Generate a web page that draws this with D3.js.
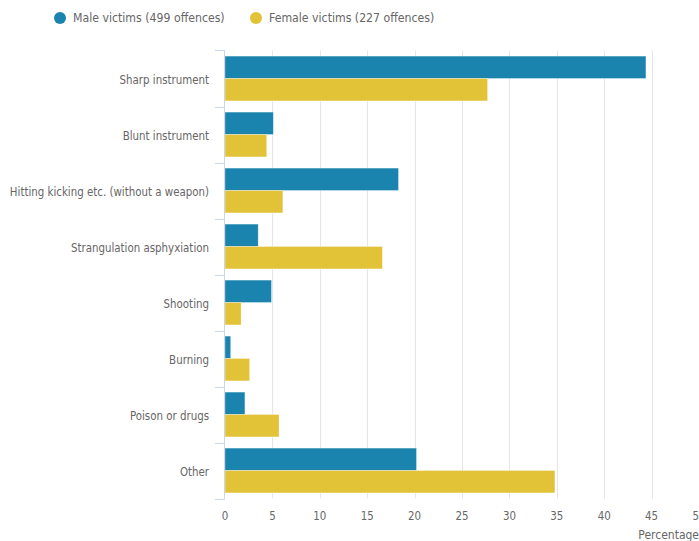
<!DOCTYPE html>
<html>
<head>
<meta charset="utf-8">
<script src="https://cdn.jsdelivr.net/npm/d3@7"></script>
<style>
  html, body { margin: 0; padding: 0; background: #fff; }
  svg { display: block; }
  text { font-family: "DejaVu Sans Condensed", "DejaVu Sans", Verdana, sans-serif; font-stretch: condensed; }
</style>
</head>
<body>
<svg id="chart" width="699" height="541"></svg>
<script>
const categories = ["Sharp instrument", "Blunt instrument", "Hitting kicking etc. (without a weapon)",
  "Strangulation asphyxiation", "Shooting", "Burning", "Poison or drugs", "Other"];
const maleValues = [44.4, 5.1, 18.3, 3.5, 4.9, 0.6, 2.1, 20.2];
const femaleValues = [27.7, 4.4, 6.1, 16.6, 1.7, 2.6, 5.7, 34.8];
const seriesNames = ["Male victims (499 offences)", "Female victims (227 offences)"];
const seriesColors = ["#1a84ae", "#e2c236"];
const xTicks = [0, 5, 10, 15, 20, 25, 30, 35, 40, 45, 50];
const xTitle = "Percentage";

const svg = d3.select("#chart");
const plotLeft = 225, plotTop = 50.5, plotBottom = 498.5;

const x = d3.scaleLinear().domain([0, 50]).range([plotLeft, plotLeft + 474]);
const y = d3.scaleBand().domain(categories).range([plotTop, plotBottom]).paddingInner(0.2).paddingOuter(0.1);
const sub = d3.scaleBand().domain([0, 1]).range([0, y.bandwidth()]);

// gridlines
svg.append("g").selectAll("line").data(xTicks.slice(1)).join("line")
  .attr("x1", d => Math.round(x(d)) + 0.5).attr("x2", d => Math.round(x(d)) + 0.5)
  .attr("y1", plotTop).attr("y2", plotBottom)
  .attr("stroke", "#e6e6e6").attr("stroke-width", 1);

// bars
const series = [maleValues, femaleValues];
const g = svg.append("g");
series.forEach((vals, si) => {
  g.selectAll(null).data(vals).join("rect")
    .attr("x", x(0))
    .attr("y", (d, i) => y(categories[i]) + sub(si))
    .attr("width", d => x(d) - x(0))
    .attr("height", sub.bandwidth())
    .attr("fill", seriesColors[si])
    .attr("stroke", "#ffffff").attr("stroke-opacity", 0.4).attr("stroke-width", 0.8);
});

// y axis line
svg.append("line").attr("x1", plotLeft - 0.5).attr("x2", plotLeft - 0.5).attr("y1", plotTop).attr("y2", plotBottom)
  .attr("stroke", "#ccd6eb");

// category ticks at boundaries
const bounds = categories.map(c => y(c) - y.step() * y.paddingInner() / 2).concat([plotBottom]);
svg.append("g").selectAll("line").data(bounds).join("line")
  .attr("x1", plotLeft - 10).attr("x2", plotLeft)
  .attr("y1", d => Math.round(d) + 0.5).attr("y2", d => Math.round(d) + 0.5)
  .attr("stroke", "#ccd6eb");

// category labels
svg.append("g").selectAll("text").data(categories).join("text")
  .attr("x", 209).attr("y", d => y(d) + y.bandwidth() / 2 + 1.5)
  .attr("dy", "0.35em").attr("text-anchor", "end")
  .attr("fill", "#666666").style("font-size", "11.4px")
  .text(d => d);

// x tick labels
svg.append("g").selectAll("text").data(xTicks).join("text")
  .attr("x", d => x(d)).attr("y", 520)
  .attr("text-anchor", "middle").attr("fill", "#666666").style("font-size", "11.4px")
  .text(d => d);

svg.append("text").attr("x", 699).attr("y", 539).attr("text-anchor", "end")
  .attr("fill", "#666666").style("font-size", "12px").text(xTitle);

// legend
const legendX = [60, 256];
seriesNames.forEach((name, i) => {
  svg.append("circle").attr("cx", legendX[i]).attr("cy", 18).attr("r", 6).attr("fill", seriesColors[i]);
  svg.append("text").attr("x", legendX[i] + 13).attr("y", 18).attr("dy", "0.35em")
    .attr("fill", "#666666").style("font-size", "12.2px").text(name);
});
</script>
</body>
</html>
